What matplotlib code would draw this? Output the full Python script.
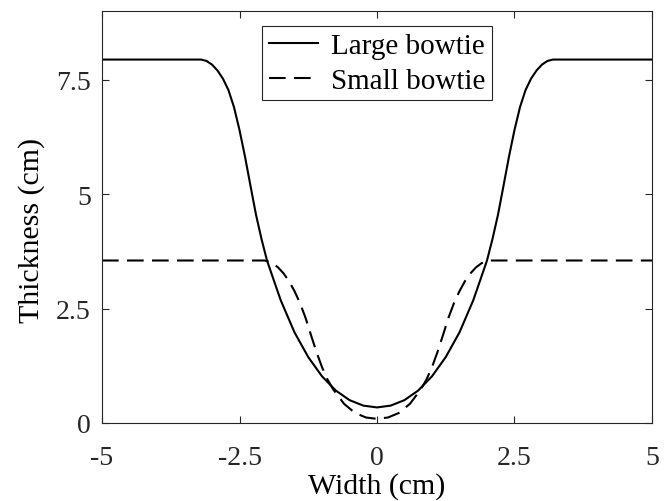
import numpy as np
import matplotlib
import matplotlib.pyplot as plt

matplotlib.rcParams['font.family'] = ['Liberation Serif', 'DejaVu Serif']
matplotlib.rcParams['axes.unicode_minus'] = False

# thickness profiles (cm)
large_x = [-5.0, -3.2, -3.1, -3.0, -2.9, -2.8, -2.7, -2.6, -2.5, -2.4, -2.3, -2.2, -2.1,
           -2.0, -1.9, -1.75, -1.5, -1.25, -1.0, -0.75, -0.5, -0.25, 0.0,
           0.25, 0.5, 0.75, 1.0, 1.25, 1.5, 1.75, 1.9, 2.0,
           2.1, 2.2, 2.3, 2.4, 2.5, 2.6, 2.7, 2.8, 2.9, 3.0, 3.1, 3.2, 5.0]
large_y = [7.94, 7.94, 7.91, 7.83, 7.70, 7.52, 7.27, 6.90, 6.40, 5.82, 5.18, 4.55, 4.02,
           3.55, 3.20, 2.68, 1.98, 1.44, 1.02, 0.71, 0.50, 0.38, 0.34,
           0.38, 0.50, 0.71, 1.02, 1.44, 1.98, 2.68, 3.20, 3.55,
           4.02, 4.55, 5.18, 5.82, 6.40, 6.90, 7.27, 7.52, 7.70, 7.83, 7.91, 7.94, 7.94]

small_x = [-5.0, -2.05, -2.0, -1.9, -1.8, -1.7, -1.6, -1.5, -1.4, -1.3, -1.2, -1.1, -1.0,
           -0.9, -0.8, -0.6, -0.4, -0.2, 0.0,
           0.2, 0.4, 0.6, 0.8, 0.9, 1.0, 1.1, 1.2, 1.3, 1.4, 1.5, 1.6, 1.7, 1.8, 1.9,
           2.0, 2.05, 5.0]
small_y = [3.55, 3.55, 3.54, 3.49, 3.40, 3.27, 3.10, 2.88, 2.62, 2.30, 1.92, 1.55, 1.22,
           0.95, 0.74, 0.42, 0.22, 0.12, 0.09,
           0.12, 0.22, 0.42, 0.74, 0.95, 1.22, 1.55, 1.92, 2.30, 2.62, 2.88, 3.10, 3.27, 3.40, 3.49,
           3.54, 3.55, 3.55]

x_ticks = [-5, -2.5, 0, 2.5, 5]
x_tick_labels = ['-5', '-2.5', '0', '2.5', '5']
y_ticks = [0, 2.5, 5, 7.5]
y_tick_labels = ['0', '2.5', '5', '7.5']

fig = plt.figure(figsize=(6.72, 5.02), dpi=100)
ax = fig.add_axes([0.1518, 0.1554, 0.8184, 0.8206])

ax.plot(large_x, large_y, color='black', linewidth=1.5, label='Large bowtie')
ax.plot(small_x, small_y, color='black', linewidth=1.5, linestyle=(0, (8, 4)),
        label='Small bowtie')

ax.set_xlim(-5, 5)
ax.set_ylim(0, 9)
ax.set_xticks(x_ticks)
ax.set_xticklabels(x_tick_labels)
ax.set_yticks(y_ticks)
ax.set_yticklabels(y_tick_labels)
ax.tick_params(direction='in', length=5, width=0.8, color='#262626',
               top=True, right=True, labelsize=20, labelcolor='#262626')
ax.tick_params(axis='x', pad=16)
ax.tick_params(axis='y', pad=8)
for s in ax.spines.values():
    s.set_color('#262626')
    s.set_linewidth(0.8)

ax.set_xlabel('Width (cm)', fontsize=21.5)
ax.set_ylabel('Thickness (cm)', fontsize=21.5)
ax.xaxis.set_label_coords(0.5, -0.118)
ax.yaxis.set_label_coords(-0.104, 0.471)

leg = ax.legend(loc='upper center', bbox_to_anchor=(0.5, 0.964), borderaxespad=0,
                fontsize=21, handlelength=1.71, handletextpad=0.43, labelspacing=0.3,
                borderpad=0.22, fancybox=False, framealpha=1, edgecolor='#262626')
leg.get_frame().set_linewidth(0.8)

fig.savefig('out.png', dpi=100)
